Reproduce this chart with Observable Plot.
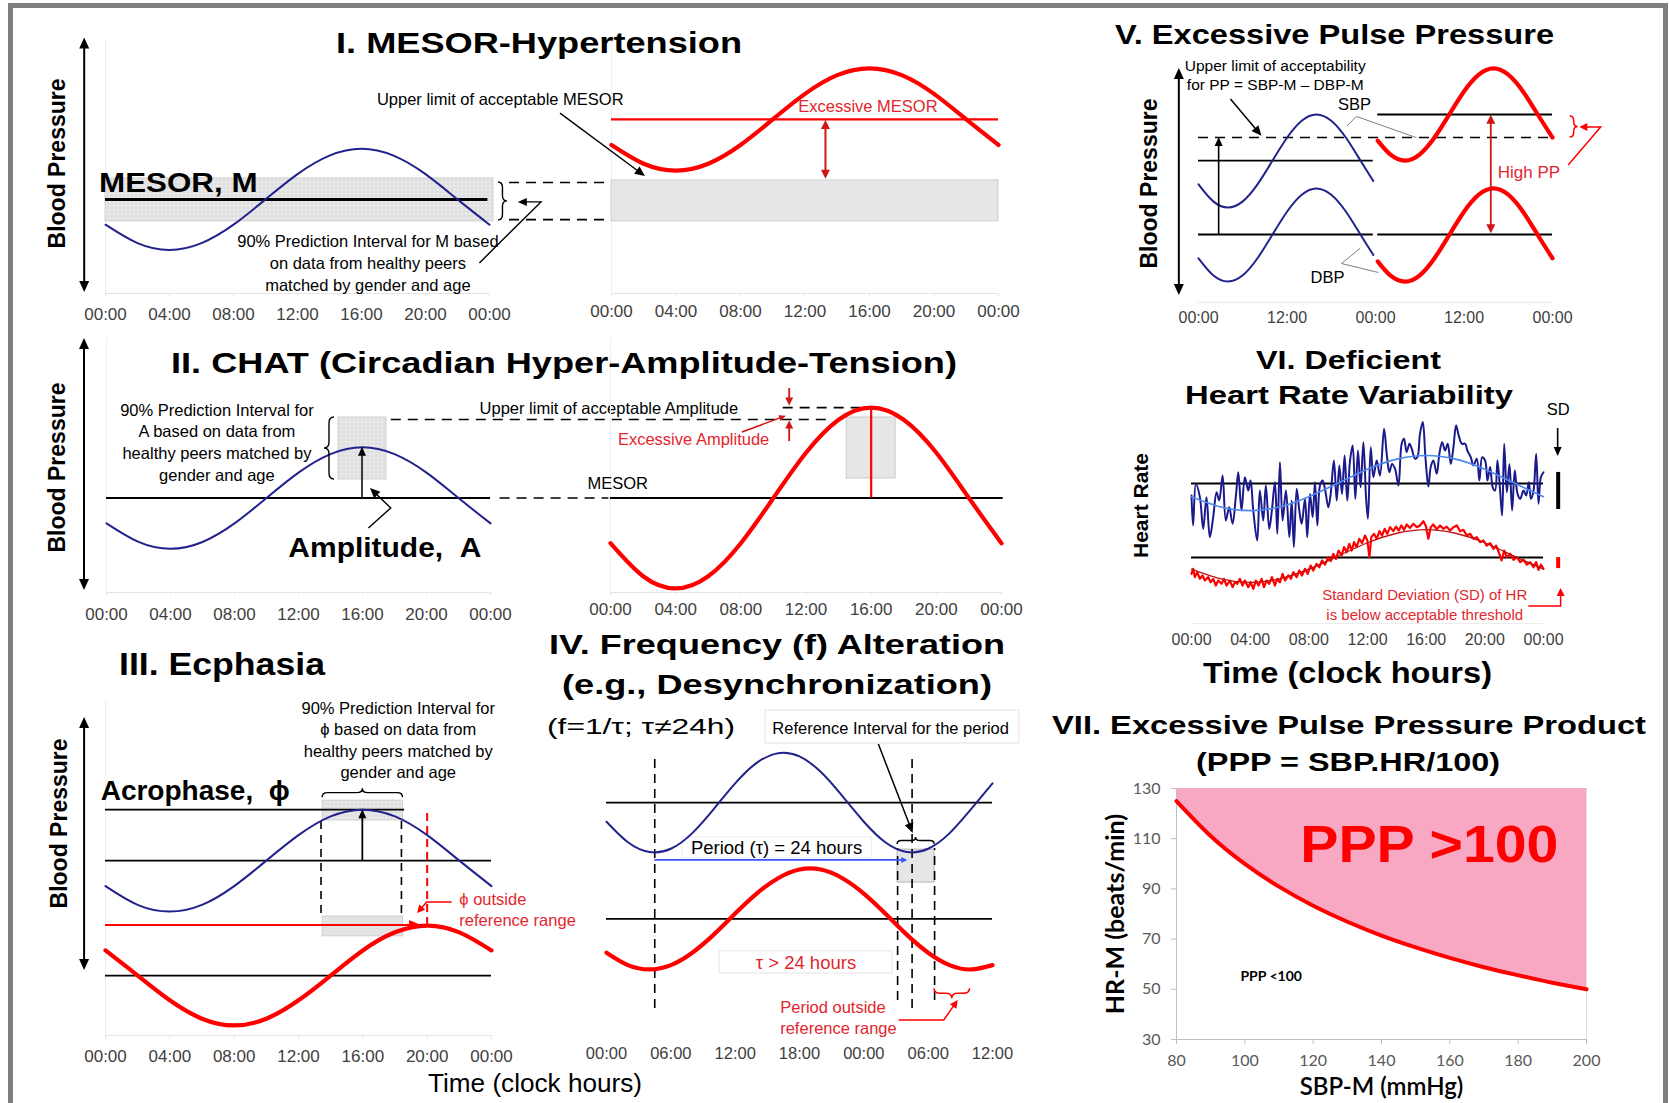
<!DOCTYPE html>
<html>
<head>
<meta charset="utf-8">
<script src="https://cdn.jsdelivr.net/npm/d3@7"></script>
<script src="https://cdn.jsdelivr.net/npm/@observablehq/plot@0.6"></script>
<style>
html, body { margin: 0; padding: 0; background: #fff; }
#page { position: relative; width: 1669px; height: 1103px; overflow: hidden; background: #fff; font-family: "Liberation Sans", Arial, sans-serif; }
.ttl { position: absolute; white-space: nowrap; transform-origin: 0 0; line-height: 1; color: #000; }
#frame { position: absolute; left: 8px; top: 3px; width: 1660px; height: 1120px; border: 5px solid #7f7f7f; box-sizing: border-box; }
</style>
</head>
<body>
<div id="page">
  <svg width="0" height="0" style="position:absolute">
    <defs>
      <pattern id="dots" width="4" height="4" patternUnits="userSpaceOnUse">
        <rect width="4" height="4" fill="#e1e1e1"></rect>
        <rect x="1" y="1" width="1.6" height="1.6" fill="#f3f3f3"></rect>
      </pattern>
    </defs>
  </svg>
  <div id="frame"></div>
</div>
<script>
// ================= DATA =================
// shared clock ticks
const hours2h = [0, 2, 4, 6, 8, 10, 12, 14, 16, 18, 20, 22, 24];
const clockTicks = [0, 4, 8, 12, 16, 20, 24];
const clockLabels = ["00:00", "04:00", "08:00", "12:00", "16:00", "20:00", "00:00"];

// I. MESOR-Hypertension (arbitrary BP units)
const bpNormalI = [27.2, 19.9, 17.2, 19.9, 27.2, 37.2, 47.2, 54.5, 57.2, 54.5, 47.2, 37.2, 27.2];
const bpHighI = [58.7, 51.3, 48.6, 51.3, 58.7, 68.8, 78.9, 86.3, 89.0, 86.3, 78.9, 68.8, 58.7];
const mesorNormalI = 37.2;
const mesorHighI = 68.8;
const mesorIntervalI = [28.5, 45.5];

// II. CHAT
const bpNormalII = [27.2, 19.9, 17.2, 19.9, 27.2, 37.2, 47.2, 54.5, 57.2, 54.5, 47.2, 37.2, 27.2];
const bpHighII = [19.4, 6.4, 1.6, 6.4, 19.4, 37.2, 55.0, 68.0, 72.8, 68.0, 55.0, 37.2, 19.4];
const mesorII = 37.2;
const ampIntervalII = [44.5, 68.9];
const ampUpperLimitII = 68.1;
const ampHighPeakII = 72.8;

// III. Ecphasia
const bpNormalIII = [44.6, 39.0, 37.0, 39.0, 44.6, 52.2, 59.8, 65.4, 67.4, 65.4, 59.8, 52.2, 44.6];
const bpShiftedIII = [25.4, 17.9, 10.5, 5.0, 3.0, 5.0, 10.5, 17.9, 25.4, 30.8, 32.8, 30.8, 25.4];
const mesorNormalIII = 52.2;
const mesorShiftedIII = 17.9;
const peakNormalIII = 67.4;
const peakShiftedIII = 32.8;
const acroIntervalIII = [13.5, 18.5];
const acroNormalIII = 16;
const acroShiftedIII = 20;

// IV. Frequency alteration
const hoursIV = [0, 2, 4, 6, 8, 10, 12, 14, 16, 18, 20, 22, 24, 26, 28, 30, 32, 34, 36];
const bp24IV = [69.9, 62.3, 58.7, 59.9, 65.7, 74.6, 84.1, 91.7, 95.3, 94.1, 88.3, 79.4, 69.9, 62.3, 58.7, 59.9, 65.7, 74.6, 84.1];
const bpLongIV = [21.4, 16.8, 15.2, 16.8, 21.4, 28.1, 35.9, 43.3, 49.0, 52.2, 52.2, 49.0, 43.3, 35.9, 28.1, 21.4, 16.8, 15.2, 16.8];
const mesor24IV = 77.0;
const mesorLongIV = 33.9;
const troughsIV = [4.5, 28.5];
const periodRefIV = [27.15, 30.6];
const tickHoursIV = [0, 6, 12, 18, 24, 30, 36];
const tickLabelsIV = ["00:00", "06:00", "12:00", "18:00", "00:00", "06:00", "12:00"];

// V. Excessive pulse pressure
const hoursNormalV = [0, 2, 4, 6, 8, 10, 12, 14, 16, 18, 20, 22, 23.7];
const hoursHighV = [24.3, 26, 28, 30, 32, 34, 36, 38, 40, 42, 44, 46, 48];
const sbpNormalV = [48.4, 41.3, 38.7, 41.3, 48.4, 58.1, 67.8, 74.9, 77.5, 74.9, 67.8, 58.1, 49.8];
const dbpNormalV = [17.6, 10.5, 7.9, 10.5, 17.6, 27.3, 37.0, 44.1, 46.7, 44.1, 37.0, 27.3, 19.0];
const sbpHighV = [66.6, 60.9, 58.3, 60.9, 67.9, 77.5, 87.1, 94.1, 96.7, 94.1, 87.1, 77.5, 67.9];
const dbpHighV = [16.3, 10.5, 7.9, 10.5, 17.6, 27.3, 37.0, 44.1, 46.7, 44.1, 37.0, 27.3, 17.6];
const sbpMesorNormalV = 58.3;
const dbpMesorV = 27.5;
const sbpMesorHighV = 77.5;
const ppLimitV = 67.9;
const tickHoursV = [0, 12, 24, 36, 48];
const tickLabelsV = ["00:00", "12:00", "00:00", "12:00", "00:00"];

// VI. Heart rate variability
const hrHoursNormal = [0,0.11,0.30,0.57,0.80,1.02,1.25,1.48,1.71,1.89,2.12,2.34,2.57,2.80,3.03,3.19,3.41,3.64,3.87,4.03,4.21,4.48,4.66,4.89,5.07,5.30,5.48,5.69,5.85,6.03,6.21,6.44,6.67,6.83,6.98,7.17,7.35,7.51,7.74,7.89,8.08,8.26,8.42,8.58,8.76,8.94,9.12,9.33,9.49,9.71,9.90,10.08,10.26,10.44,10.62,10.81,10.99,11.17,11.35,11.53,11.72,11.90,12.03,12.22,12.40,12.63,12.85,13.13,13.31,13.49,13.67,13.88,14.11,14.33,14.49,14.67,14.86,15.02,15.24,15.40,15.58,15.77,15.95,16.15,16.31,16.49,16.72,16.90,17.09,17.29,17.47,17.68,17.86,18.04,18.22,18.43,18.66,18.81,19.04,19.22,19.45,19.63,19.82,20.02,20.18,20.36,20.54,20.70,20.86,21.04,21.18,21.32,21.50,21.68,21.86,22.04,22.23,22.41,22.64,22.82,23.00,23.14,23.32,23.50,23.66,23.82,24.00];
const hrNormal = [55.3,39.5,61.4,54.4,37.7,54.4,33.3,43.9,57.0,52.6,65.8,42.1,49.1,40.4,55.3,67.5,47.4,64.9,57.9,63.2,47.4,31.6,57.9,42.1,60.5,37.7,47.4,62.3,35.1,72.8,42.1,57.9,33.3,52.6,28.1,58.8,47.4,40.4,53.5,33.3,56.1,43.9,62.3,39.5,60.5,63.2,57.9,49.1,56.1,73.7,52.6,71.1,56.1,76.3,52.6,73.7,81.6,53.5,78.9,59.6,83.3,54.4,43.0,80.7,64.9,73.7,65.8,90.4,77.2,67.5,71.9,69.3,60.5,82.5,85.1,78.1,82.5,79.8,74.6,75.4,87.7,93.9,75.4,60.0,70.2,73.7,66.7,77.2,83.3,78.9,82.5,71.9,80.7,92.1,86.8,82.5,82.5,78.9,75.4,71.1,74.6,63.2,75.4,73.7,63.2,70.2,59.6,57.9,73.7,57.9,44.7,82.5,57.0,71.9,47.4,68.4,56.1,53.5,57.9,55.3,62.3,53.5,57.9,77.2,50.9,64.9,67.5];
const hrHoursLow = [0.00,0.11,0.23,0.39,0.57,0.75,0.91,1.14,1.30,1.48,1.66,1.82,2.05,2.21,2.39,2.62,2.80,2.96,3.12,3.30,3.48,3.64,3.87,4.03,4.21,4.39,4.57,4.78,4.94,5.12,5.30,5.48,5.69,5.85,6.03,6.21,6.39,6.60,6.78,6.94,7.17,7.35,7.53,7.74,7.92,8.12,8.30,8.53,8.71,8.90,9.10,9.33,9.49,9.67,9.85,10.03,10.24,10.40,10.58,10.76,10.92,11.08,11.26,11.44,11.63,11.83,11.99,12.13,12.26,12.44,12.63,12.81,12.99,13.17,13.35,13.54,13.76,13.95,14.13,14.31,14.49,14.67,14.90,15.13,15.36,15.58,15.81,15.99,16.15,16.31,16.49,16.72,16.95,17.18,17.40,17.63,17.86,18.09,18.31,18.54,18.77,19.00,19.22,19.45,19.68,19.91,20.13,20.36,20.59,20.77,20.95,21.14,21.32,21.50,21.73,21.95,22.18,22.41,22.64,22.86,23.09,23.32,23.50,23.66,23.82,24.00];
const hrLow = [14.0,16.7,12.3,14.9,11.4,13.2,10.5,12.3,9.6,11.4,7.9,10.5,8.8,11.4,7.9,10.5,7.0,9.6,8.8,11.4,7.9,10.5,7.0,9.6,6.1,10.5,7.9,11.4,7.0,10.5,8.8,12.3,7.9,11.4,9.6,14.0,10.5,13.2,11.4,14.9,12.3,15.8,13.2,16.7,14.0,18.4,15.8,19.3,17.5,21.1,18.9,22.8,20.7,24.6,21.9,26.3,23.7,28.1,25.4,29.8,26.3,30.7,28.1,32.5,30.2,34.2,31.6,22.8,33.3,35.1,32.5,36.5,34.2,37.7,35.1,38.6,36.5,38.9,36.8,39.5,37.2,40.0,38.2,40.4,38.6,39.5,41.8,38.9,32.5,38.6,40.0,37.5,39.5,37.7,38.9,36.8,38.6,39.5,36.5,37.2,34.2,35.1,32.5,33.3,30.7,31.6,28.9,30.2,27.2,28.9,25.4,21.1,26.3,22.8,24.6,21.4,22.8,20.2,21.4,18.9,20.2,17.5,20.2,16.1,18.9,16.7];
const hrFitNormal = [54.6, 49.2, 47.3, 49.2, 54.6, 61.8, 69.1, 74.4, 76.3, 74.4, 69.1, 61.8, 54.6];
const hrFitLow = [16.5, 11.4, 9.5, 11.4, 16.5, 23.4, 30.4, 35.4, 37.3, 35.4, 30.4, 23.4, 16.5];
const hrMesorNormal = 61.6;
const hrMesorLow = 22.6;
const sdNormal = [47.9, 67.4];
const sdLow = [16.8, 22.6];

// VII. Pulse pressure product (PPP = SBP*HR/100 = 100)
const sbpVII = [80, 90, 100, 110, 120, 130, 140, 150, 160, 170, 180, 190, 200];
const hrLimitVII = [125, 111.1, 100, 90.9, 83.3, 76.9, 71.4, 66.7, 62.5, 58.8, 55.6, 52.6, 50];
const sbpTicksVII = [80, 100, 120, 140, 160, 180, 200];
const hrTicksVII = [30, 50, 70, 90, 110, 130];

// ================= HELPERS =================
const W = 1669, H = 1103;
const FONT = "'Liberation Sans', Arial, Helvetica, sans-serif";
const BLUE = "#22228c", RED = "#ff0000", RTXT = "#e3262e";
const NS = "http://www.w3.org/2000/svg";
const page = document.getElementById("page");
const STRETCH = {"MESOR, M": 1.16, "Amplitude,\u00a0\u00a0A": 1.07, "PPP >100": 1.1};

function svgEl(tag, attrs) {
  const e = document.createElementNS(NS, tag);
  for (const k in attrs) e.setAttribute(k, attrs[k]);
  return e;
}
function stretch(svg) {
  svg.querySelectorAll("text").forEach(t => {
    const k = STRETCH[t.textContent];
    if (k) {
      const w = t.getComputedTextLength();
      t.setAttribute("textLength", (w * k).toFixed(1));
      t.setAttribute("lengthAdjust", "spacingAndGlyphs");
    }
  });
}
function layer(x0, x1, yTop, yBottom, xDomain, yDomain, marks) {
  const svg = Plot.plot({
    width: W, height: H,
    marginLeft: x0, marginRight: W - x1, marginTop: yTop, marginBottom: H - yBottom,
    x: {domain: xDomain, axis: null},
    y: {domain: yDomain, axis: null},
    style: {background: "transparent", overflow: "visible", fontFamily: FONT, fontSize: "16.5px", color: "#000",
            position: "absolute", left: "0px", top: "0px", maxWidth: "none"},
    marks
  });
  page.appendChild(svg);
  stretch(svg);
  return svg;
}
const txt = (x, y, s, o = {}) => Plot.text([{x, y, s}], {x: "x", y: "y", text: "s", fontSize: 16.5, ...o});
const hline = (y, x1, x2, o = {}) => Plot.ruleY([{y, x1, x2}], {y: "y", x1: "x1", x2: "x2", stroke: "#000", strokeWidth: 1.8, ...o});
const vline = (x, y1, y2, o = {}) => Plot.ruleX([{x, y1, y2}], {x: "x", y1: "y1", y2: "y2", stroke: "#000", strokeWidth: 1.8, ...o});
const box = (x1, x2, y1, y2, o = {}) => Plot.rect([{x1, x2, y1, y2}], {x1: "x1", x2: "x2", y1: "y1", y2: "y2", ...o});
const curve = (hrs, vals, o = {}) => Plot.line(vals.map((v, i) => ({h: hrs[i], v})), {x: "h", y: "v", curve: "natural", ...o});
const polyline = (pts, o = {}) => Plot.line(pts.map(([a, b]) => ({a, b})), {x: "a", y: "b", stroke: "#7f7f7f", strokeWidth: 1, ...o});
function clockAxis(ticks, labels, pad, fs = 17) {
  const m = new Map(ticks.map((t, i) => [t, labels[i]]));
  return Plot.axisX(ticks, {anchor: "bottom", tickSize: 0, tickPadding: pad, tickFormat: d => m.get(d), fontSize: fs, color: "#404040"});
}
function faintAxes(xmax, ticks) {
  return [
    Plot.ruleY([0], {x1: 0, x2: xmax, stroke: "#e4e4e4"}),
    Plot.ruleX([0], {y1: 0, y2: 100, stroke: "#efefef"}),
    Plot.ruleX(ticks, {x: d => d, y1: 0, y2: -1.2, stroke: "#e4e4e4"})
  ];
}
// arrow with filled triangular heads (through the plot's scales)
function arrow(pts, o = {}) {
  const {stroke = "#000", sw = 1.5, head = 10, hw = 4.5, start = false, end = true, dash = null} = o;
  return (index, scales) => {
    const P = pts.map(([a, b]) => [scales.x(a), scales.y(b)]);
    const L = P.map(p => [p[0], p[1]]);
    const g = svgEl("g", {});
    const mk = (tip, from) => {
      const dx = tip[0] - from[0], dy = tip[1] - from[1], n = Math.hypot(dx, dy) || 1;
      const ux = dx / n, uy = dy / n, bx = tip[0] - ux * head, by = tip[1] - uy * head;
      g.appendChild(svgEl("polygon", {points: `${tip[0]},${tip[1]} ${bx - uy * hw},${by + ux * hw} ${bx + uy * hw},${by - ux * hw}`, fill: stroke}));
      return [bx + ux * 1.5, by + uy * 1.5];
    };
    if (end) L[L.length - 1] = mk(P[P.length - 1], P[P.length - 2]);
    if (start) L[0] = mk(P[0], P[1]);
    const path = svgEl("path", {d: "M" + L.map(p => p.join(",")).join("L"), fill: "none", stroke, "stroke-width": sw});
    if (dash) path.setAttribute("stroke-dasharray", dash);
    g.insertBefore(path, g.firstChild);
    return g;
  };
}
// curly braces (vertical: tip dir +1 right / -1 left ; horizontal: +1 down / -1 up)
function braceV(x, ya, yb, w, dir, stroke = "#000", sw = 1.4) {
  return (index, s) => {
    const px = s.x(x), a = Math.min(s.y(ya), s.y(yb)), b = Math.max(s.y(ya), s.y(yb)), m = (a + b) / 2;
    const q = dir * w / 2, r = Math.min(w * 0.6, (b - a) / 4);
    const d = `M${px},${a} Q${px + q},${a} ${px + q},${a + r} L${px + q},${m - r} Q${px + q},${m} ${px + 2 * q},${m} Q${px + q},${m} ${px + q},${m + r} L${px + q},${b - r} Q${px + q},${b} ${px},${b}`;
    return svgEl("path", {d, fill: "none", stroke, "stroke-width": sw});
  };
}
function braceH(xa, xb, y, h, dir, stroke = "#000", sw = 1.4) {
  return (index, s) => {
    const a = Math.min(s.x(xa), s.x(xb)), b = Math.max(s.x(xa), s.x(xb)), py = s.y(y), m = (a + b) / 2;
    const q = dir * h / 2, r = Math.min(h * 0.6, (b - a) / 4);
    const d = `M${a},${py} Q${a},${py + q} ${a + r},${py + q} L${m - r},${py + q} Q${m},${py + q} ${m},${py + 2 * q} Q${m},${py + q} ${m + r},${py + q} L${b - r},${py + q} Q${b},${py + q} ${b},${py}`;
    return svgEl("path", {d, fill: "none", stroke, "stroke-width": sw});
  };
}
function title(text, x1, x2, cy, fs, weight = "bold", family = FONT) {
  const d = document.createElement("div");
  d.className = "ttl";
  d.textContent = text;
  d.style.fontSize = fs + "px";
  d.style.fontWeight = weight;
  d.style.fontFamily = family;
  d.style.left = x1 + "px";
  d.style.top = (cy - 0.488 * fs) + "px";
  page.appendChild(d);
  const w = d.getBoundingClientRect().width;
  d.style.transform = `scaleX(${((x2 - x1) / w).toFixed(4)})`;
}
const dash = {strokeDasharray: "10,7", strokeWidth: 1.6};

// ================= PANEL I =================
layer(105, 489, 40, 293, [0, 24], [0, 100], [
  faintAxes(24, clockTicks),
  box(0, 24.25, mesorIntervalI[0], mesorIntervalI[1], {fill: "url(#dots)", stroke: "#d2d2d2"}),
  hline(mesorNormalI, 0, 23.9, {strokeWidth: 3}),
  curve(hours2h, bpNormalI, {stroke: BLUE, strokeWidth: 2}),
  txt(-0.4, 43.7, "MESOR, M", {textAnchor: "start", fontWeight: "bold", fontSize: 27}),
  braceV(24.56, 28.9, 43.9, 9, 1),
  hline(43.9, 25.25, 31.4, dash),
  hline(29.2, 25.25, 31.4, dash),
  arrow([[23.4, 11.9], [27.25, 36.0], [25.8, 36.0]], {sw: 1.4, head: 9, hw: 4}),
  txt(16.4, 12.6, "90% Prediction Interval for M based\non data from healthy peers\nmatched by gender and age", {lineHeight: 1.33}),
  txt(-3.0, 51.4, "Blood Pressure", {rotate: -90, fontWeight: "bold", fontSize: 23}),
  arrow([[-1.3, 0.4], [-1.3, 101]], {start: true, sw: 2, head: 11, hw: 5}),
  clockAxis(clockTicks, clockLabels, 14)
]);
layer(611, 998, 40, 293, [0, 24], [0, 100], [
  faintAxes(24, clockTicks),
  box(0, 24, mesorIntervalI[0], 44.7, {fill: "#e6e6e6", stroke: "#cfcfcf"}),
  hline(mesorHighI, 0, 24, {stroke: RED, strokeWidth: 2.2}),
  curve(hours2h, bpHighI, {stroke: RED, strokeWidth: 4.2}),
  arrow([[13.3, 45.2], [13.3, mesorHighI - 0.4]], {start: true, stroke: "#d01515", sw: 2, head: 9, hw: 4.5}),
  txt(15.9, 73.9, "Excessive MESOR", {fill: RTXT}),
  txt(-6.9, 76.7, "Upper limit of acceptable MESOR"),
  arrow([[-3.16, 71.1], [2.1, 46.2]], {sw: 1.4, head: 10, hw: 4.5}),
  clockAxis(clockTicks, clockLabels, 11)
]);

// ================= PANEL II =================
layer(106, 490, 338, 592, [0, 24], [0, 100], [
  faintAxes(24, clockTicks),
  box(14.5, 17.5, ampIntervalII[0], ampIntervalII[1], {fill: "url(#dots)", stroke: "#cfcfcf"}),
  hline(mesorII, 0, 24, {strokeWidth: 1.8}),
  hline(mesorII, 24.6, 31.4, dash),
  curve(hours2h, bpNormalII, {stroke: BLUE, strokeWidth: 2}),
  arrow([[16, mesorII], [16, 57.2]], {sw: 1.5, head: 9, hw: 4}),
  braceV(14.25, ampIntervalII[0], ampIntervalII[1], 10, -1),
  hline(ampUpperLimitII, 17.8, 45.25, dash),
  txt(31.4, 72.4, "Upper limit of acceptable Amplitude"),
  txt(17.4, 17.7, "Amplitude,\u00a0\u00a0A", {fontWeight: "bold", fontSize: 28}),
  arrow([[16.4, 25.2], [17.8, 33.1], [16.5, 40.9]], {sw: 1.4, head: 10, hw: 4.5}),
  txt(6.9, 59.5, "90% Prediction Interval for\nA based on data from\nhealthy peers matched by\ngender and age", {lineHeight: 1.31}),
  txt(-3.06, 49.2, "Blood Pressure", {rotate: -90, fontWeight: "bold", fontSize: 23}),
  arrow([[-1.375, 0.8], [-1.375, 100]], {start: true, sw: 2, head: 11, hw: 5}),
  clockAxis(clockTicks, clockLabels, 15)
]);
layer(610, 1001, 338, 592, [0, 24], [0, 100], [
  faintAxes(24, clockTicks),
  box(14.5, 17.5, 44.9, ampIntervalII[1], {fill: "#e6e6e6", stroke: "#c8c8c8"}),
  hline(mesorII, 0, 24.1, {strokeWidth: 1.8}),
  hline(ampHighPeakII, 10.6, 16, dash),
  vline(16, mesorII, ampHighPeakII, {stroke: RED, strokeWidth: 2.2}),
  curve(hours2h, bpHighII, {stroke: RED, strokeWidth: 4.2}),
  txt(-1.41, 42.9, "MESOR", {textAnchor: "start"}),
  arrow([[11, 80.3], [11, 73.4]], {stroke: "#d01515", sw: 1.8, head: 8, hw: 4}),
  arrow([[11, 59.4], [11, 67.5]], {stroke: "#d01515", sw: 1.8, head: 8, hw: 4}),
  txt(5.1, 60.2, "Excessive Amplitude", {fill: RTXT}),
  arrow([[8.1, 63.0], [10.8, 69.4]], {stroke: "#d01515", sw: 1.5, head: 7, hw: 3}),
  clockAxis(clockTicks, clockLabels, 10)
]);

// ================= PANEL III =================
layer(105, 491, 700, 1035, [0, 24], [0, 100], [
  faintAxes(24, clockTicks),
  box(acroIntervalIII[0], acroIntervalIII[1], 64.2, 70.1, {fill: "url(#dots)", stroke: "#cfcfcf"}),
  box(acroIntervalIII[0], acroIntervalIII[1], 29.6, 35.5, {fill: "#e3e3e3", stroke: "#cfcfcf"}),
  hline(peakNormalIII, 0, 18.6, {strokeWidth: 1.8}),
  hline(mesorNormalIII, 0, 24, {strokeWidth: 1.8}),
  hline(mesorShiftedIII, 0, 24, {strokeWidth: 1.8}),
  vline(13.4, 36.4, 64.8, {strokeDasharray: "8,6", strokeWidth: 1.6}),
  vline(18.4, 36.4, 64.8, {strokeDasharray: "8,6", strokeWidth: 1.6}),
  vline(acroShiftedIII, peakShiftedIII, 66.3, {stroke: RED, strokeDasharray: "8,5", strokeWidth: 2}),
  curve(hours2h, bpNormalIII, {stroke: BLUE, strokeWidth: 2}),
  arrow([[0, peakShiftedIII], [19.65, peakShiftedIII]], {stroke: RED, sw: 2, head: 12, hw: 5}),
  curve(hours2h, bpShiftedIII, {stroke: RED, strokeWidth: 4.2}),
  arrow([[acroNormalIII, mesorNormalIII], [acroNormalIII, peakNormalIII]], {sw: 1.8, head: 9, hw: 4}),
  braceH(acroIntervalIII[0], acroIntervalIII[1], 71.0, 9, -1),
  txt(-0.3, 73.1, "Acrophase,\u00a0\u00a0ϕ", {textAnchor: "start", fontWeight: "bold", fontSize: 28}),
  txt(18.2, 88.5, "90% Prediction Interval for\nϕ based on data from\nhealthy peers matched by\ngender and age", {lineHeight: 1.31}),
  txt(22.0, 37.8, "ϕ outside\nreference range", {textAnchor: "start", fill: RTXT, lineHeight: 1.27}),
  arrow([[21.55, 39.7], [20.0, 39.7], [19.4, 36.4]], {stroke: RED, sw: 1.5, head: 8, hw: 4}),
  txt(-2.86, 63.3, "Blood Pressure", {rotate: -90, fontWeight: "bold", fontSize: 23}),
  arrow([[-1.3, 19.4], [-1.3, 94.9]], {start: true, sw: 2, head: 11, hw: 5}),
  clockAxis(clockTicks, clockLabels, 14)
]);

// ================= PANEL IV =================
layer(606, 992, 740, 1010, [0, 36], [0, 100], [
  box(14.83, 38.5, 98.9, 111.1, {fill: "#fff", stroke: "#e2e2e2"}),
  box(7.09, 24.78, 56.3, 64.1, {fill: "#fff", stroke: "#ececec"}),
  box(10.54, 26.68, 13.7, 21.9, {fill: "#fff", stroke: "#e6e6e6"}),
  box(periodRefIV[0], periodRefIV[1], 47.4, 59.6, {fill: "#e6e6e6", stroke: "#b5b5b5"}),
  hline(mesor24IV, 0, 36, {strokeWidth: 1.8}),
  hline(mesorLongIV, 0, 36, {strokeWidth: 1.8}),
  vline(troughsIV[0], 0.7, 95.2, {strokeDasharray: "9,6", strokeWidth: 1.6}),
  vline(troughsIV[1], 0.7, 95.2, {strokeDasharray: "9,6", strokeWidth: 1.6}),
  vline(periodRefIV[0], 3.7, 60, {strokeDasharray: "9,6", strokeWidth: 1.6}),
  vline(periodRefIV[1], 3.7, 60, {strokeDasharray: "9,6", strokeWidth: 1.6}),
  braceH(periodRefIV[0], periodRefIV[1], 61.5, 7, -1),
  curve(hoursIV, bp24IV, {stroke: BLUE, strokeWidth: 2}),
  curve(hoursIV, bpLongIV, {stroke: RED, strokeWidth: 4.2}),
  arrow([[troughsIV[0], 55.6], [28.1, 55.6]], {stroke: "#3a55ff", sw: 1.8, head: 6, hw: 3}),
  txt(15.86, 60.0, "Period (τ) = 24 hours", {fontSize: 18.5}),
  txt(18.6, 17.4, "τ > 24 hours", {fontSize: 18.5, fill: RTXT}),
  txt(26.5, 104.4, "Reference Interval for the period"),
  arrow([[25.4, 98.5], [28.6, 65.6]], {sw: 1.5, head: 10, hw: 4.5}),
  braceH(periodRefIV[1], 33.9, 8.1, 10, 1, RED, 1.5),
  arrow([[27.3, -3.7], [31.5, -3.7], [32.8, 3.7]], {stroke: RED, sw: 1.5, head: 8, hw: 4}),
  txt(16.2, -2.4, "Period outside\nreference range", {textAnchor: "start", fill: RTXT, lineHeight: 1.27}),
  clockAxis(tickHoursIV, tickLabelsIV, 37, 16.5)
]);

// ================= PANEL V =================
layer(1198, 1552, 60, 300, [0, 48], [0, 100], [
  Plot.ruleY([-0.8], {x1: 0, x2: 48, stroke: "#e8e8e8"}),
  hline(sbpMesorNormalV, 0, 23.7, {strokeWidth: 1.8}),
  hline(dbpMesorV, 0, 23.7, {strokeWidth: 1.8}),
  hline(dbpMesorV, 24.3, 48, {strokeWidth: 1.8}),
  hline(sbpMesorHighV, 24.3, 48, {strokeWidth: 1.8}),
  hline(ppLimitV, 0, 48.2, dash),
  curve(hoursNormalV, sbpNormalV, {stroke: BLUE, strokeWidth: 2}),
  curve(hoursNormalV, dbpNormalV, {stroke: BLUE, strokeWidth: 2}),
  curve(hoursHighV, sbpHighV, {stroke: RED, strokeWidth: 4.2}),
  curve(hoursHighV, dbpHighV, {stroke: RED, strokeWidth: 4.2}),
  arrow([[2.8, dbpMesorV], [2.8, ppLimitV]], {sw: 1.6, head: 9, hw: 4}),
  arrow([[39.7, dbpMesorV + 0.3], [39.7, sbpMesorHighV - 0.3]], {start: true, stroke: "#d01515", sw: 1.8, head: 9, hw: 4.5}),
  txt(44.8, 53.3, "High PP", {fill: RTXT, fontSize: 17}),
  braceV(50.4, ppLimitV, 76.7, 8, 1, RED, 1.5),
  arrow([[50.2, 56.25], [54.6, 72.1], [51.7, 72.1]], {stroke: RED, sw: 1.5, head: 8, hw: 4}),
  txt(21.15, 81.7, "SBP"),
  polyline([[20.2, 72.9], [21.4, 76.7], [29.5, 67.9]]),
  txt(17.5, 9.6, "DBP"),
  polyline([[21.9, 21.7], [19.4, 15.4], [24.35, 11.7]]),
  txt(10.4, 94.4, "Upper limit of acceptability\nfor PP = SBP-M – DBP-M", {fontSize: 15.5, lineHeight: 1.23}),
  arrow([[4.4, 83.75], [8.6, 68.4]], {sw: 1.5, head: 10, hw: 4.5}),
  txt(-6.6, 48.75, "Blood Pressure", {rotate: -90, fontWeight: "bold", fontSize: 23}),
  arrow([[-2.6, 2.1], [-2.6, 96.7]], {start: true, sw: 2, head: 11, hw: 5}),
  clockAxis(tickHoursV, tickLabelsV, 11, 16)
]);

// ================= PANEL VI =================
layer(1191, 1543, 410, 623, [0, 24], [-12.1, 100], [
  Plot.ruleY([-12.1], {x1: 0, x2: 24, stroke: "#ececec"}),
  hline(hrMesorNormal, 0, 24, {strokeWidth: 2}),
  hline(hrMesorLow, 0, 24, {strokeWidth: 2}),
  curve(hrHoursNormal, hrNormal, {stroke: "#1a1a8c", strokeWidth: 2, curve: "catmull-rom"}),
  curve(hours2h, hrFitNormal, {stroke: "#4f88ee", strokeWidth: 1.6}),
  curve(hrHoursLow, hrLow, {stroke: RED, strokeWidth: 2.2, curve: "linear"}),
  curve(hours2h, hrFitLow, {stroke: "#c41010", strokeWidth: 1.3}),
  txt(25.0, 100.5, "SD"),
  arrow([[25, 90.5], [25, 75.8]], {sw: 1.6, head: 9, hw: 4}),
  vline(25, sdNormal[0], sdNormal[1], {strokeWidth: 4}),
  vline(25, sdLow[0], sdLow[1], {stroke: RED, strokeWidth: 4}),
  arrow([[23.0, -3.2], [25.2, -3.2], [25.2, 6.3]], {stroke: RED, sw: 1.5, head: 8, hw: 4}),
  txt(15.9, -1.6, "Standard Deviation (SD) of HR\nis below acceptable threshold", {fill: RTXT, fontSize: 15, lineHeight: 1.33}),
  txt(-3.4, 50, "Heart Rate", {rotate: -90, fontWeight: "bold", fontSize: 21}),
  clockAxis(clockTicks, clockLabels, 10, 16)
]);

// ================= PANEL VII =================
const pppRows = sbpVII.map((s, i) => ({s, h: hrLimitVII[i]}));
layer(1176, 1586, 788, 1039, [80, 200], [30, 130], [
  Plot.areaY(pppRows, {x: "s", y1: "h", y2: 130, curve: "natural", fill: "#f8a8c2"}),
  Plot.ruleX([200], {y1: 30, y2: 130, stroke: "#e0e0e0"}),
  Plot.ruleY([30], {stroke: "#bfbfbf"}),
  Plot.ruleX([80], {stroke: "#bfbfbf"}),
  Plot.axisX(sbpTicksVII, {anchor: "bottom", tickSize: 5, tickPadding: 10, stroke: "#bfbfbf", fill: "#595959", fontSize: 16, fontFamily: "Lato, 'Open Sans', sans-serif"}),
  Plot.axisY(hrTicksVII, {anchor: "left", tickSize: 5, tickPadding: 11, stroke: "#bfbfbf", fill: "#595959", fontSize: 16, fontFamily: "Lato, 'Open Sans', sans-serif"}),
  Plot.line(pppRows, {x: "s", y: "h", curve: "natural", stroke: RED, strokeWidth: 4}),
  txt(154, 107.4, "PPP >100", {fill: RED, fontWeight: "bold", fontSize: 52}),
  txt(107.7, 55.2, "PPP <100", {fontWeight: "bold", fontSize: 14, fontFamily: "Lato, sans-serif"}),
  txt(62.2, 80, "HR-M (beats/min)", {rotate: -90, fontWeight: "bold", fontSize: 25, fontFamily: "Lato, sans-serif"}),
  txt(140, 11.0, "SBP-M (mmHg)", {fontWeight: 600, fontSize: 24, fontFamily: "Lato, sans-serif"})
]);

// ================= TITLES =================
title("I. MESOR-Hypertension", 336, 742, 43, 30);
title("II. CHAT (Circadian Hyper-Amplitude-Tension)", 171, 957, 363, 30);
title("III. Ecphasia", 119, 325, 664, 31);
title("IV. Frequency (f) Alteration", 549, 1005, 645, 28);
title("(e.g., Desynchronization)", 562, 992, 685, 28);
title("(f=1/τ; τ≠24h)", 547, 735, 727, 22, "normal");
title("V. Excessive Pulse Pressure", 1115, 1554, 35, 28);
title("VI. Deficient", 1256, 1441, 360, 26);
title("Heart Rate Variability", 1185, 1513, 395, 26);
title("Time (clock hours)", 1203, 1492, 673, 29);
title("VII. Excessive Pulse Pressure Product", 1052, 1646, 725, 26);
title("(PPP = SBP.HR/100)", 1196, 1500, 762, 26);
title("Time (clock hours)", 428, 642, 1083, 26, "normal");
</script>
</body>
</html>
